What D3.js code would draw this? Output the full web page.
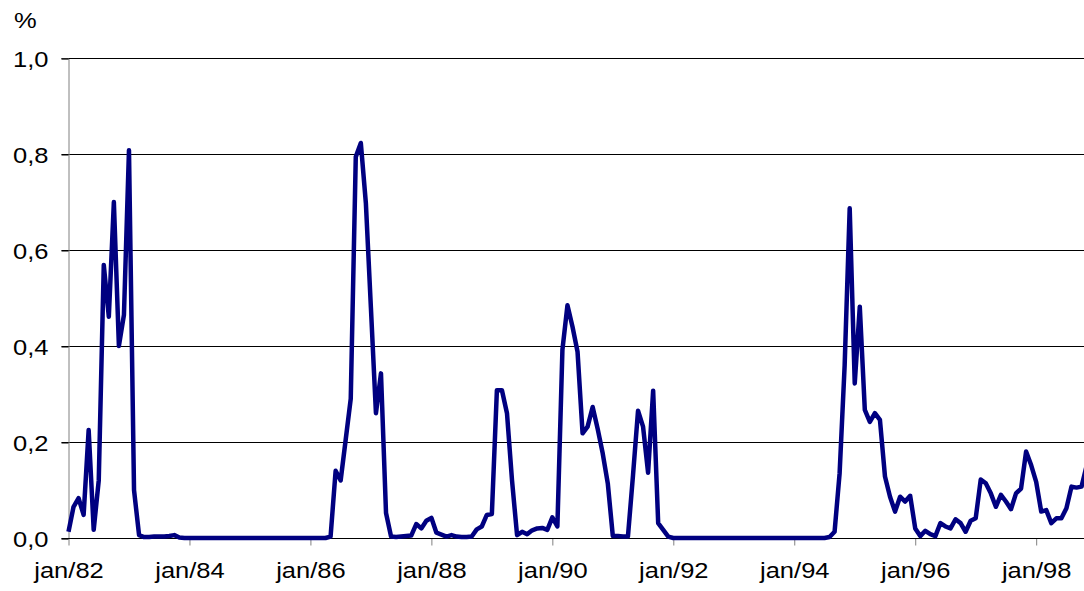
<!DOCTYPE html>
<html>
<head>
<meta charset="utf-8">
<script src="https://cdn.jsdelivr.net/npm/d3@7"></script>
<style>
  body { margin: 0; background: #fff; }
  svg { display: block; }
  text { font-family: "Liberation Sans", Arial, sans-serif; fill: #000; }
</style>
</head>
<body>
<div id="chart"></div>
<script>
// monthly series, jan/82 onwards (%)
var startYear = 1982;
var values = [
  0.013, 0.065, 0.083, 0.048, 0.225, 0.017, 0.12, 0.569, 0.461, 0.70, 0.40, 0.465,   // 1982
  0.808, 0.10, 0.006, 0.002, 0.002, 0.003, 0.003, 0.003, 0.004, 0.006, 0.001, 0,      // 1983
  0, 0, 0, 0, 0, 0, 0, 0, 0, 0, 0, 0,                                                 // 1984
  0, 0, 0, 0, 0, 0, 0, 0, 0, 0, 0, 0,                                                 // 1985
  0, 0, 0, 0, 0.003, 0.14, 0.12, 0.205, 0.29, 0.794, 0.823, 0.698,                    // 1986
  0.48, 0.26, 0.343, 0.052, 0.003, 0.002, 0.003, 0.004, 0.005, 0.029, 0.02, 0.036,    // 1987
  0.042, 0.011, 0.007, 0.003, 0.006, 0.003, 0.002, 0.002, 0.003, 0.018, 0.024, 0.048, // 1988
  0.05, 0.308, 0.308, 0.26, 0.12, 0.006, 0.013, 0.008, 0.016, 0.02, 0.021, 0.017,     // 1989
  0.043, 0.024, 0.392, 0.485, 0.44, 0.388, 0.218, 0.232, 0.273, 0.227, 0.176, 0.114,  // 1990
  0.004, 0.004, 0.003, 0.003, 0.13, 0.265, 0.232, 0.136, 0.307, 0.031, 0.017, 0.003,  // 1991
  0, 0, 0, 0, 0, 0, 0, 0, 0, 0, 0, 0,                                                 // 1992
  0, 0, 0, 0, 0, 0, 0, 0, 0, 0, 0, 0,                                                 // 1993
  0, 0, 0, 0, 0, 0, 0, 0.002, 0.013, 0.135, 0.36, 0.687,                              // 1994
  0.322, 0.482, 0.267, 0.242, 0.26, 0.246, 0.128, 0.086, 0.055, 0.086, 0.076, 0.088,  // 1995
  0.02, 0.004, 0.015, 0.008, 0.004, 0.031, 0.024, 0.02, 0.039, 0.031, 0.013, 0.036,   // 1996
  0.041, 0.122, 0.114, 0.093, 0.065, 0.09, 0.076, 0.06, 0.093, 0.103, 0.18, 0.152,    // 1997
  0.117, 0.055, 0.058, 0.031, 0.041, 0.041, 0.062, 0.107, 0.105, 0.107, 0.15          // 1998
];
var xTickLabels = ["jan/82", "jan/84", "jan/86", "jan/88", "jan/90", "jan/92", "jan/94", "jan/96", "jan/98"];
var yTicks = [0, 0.2, 0.4, 0.6, 0.8, 1.0];
var yTickLabels = ["0,0", "0,2", "0,4", "0,6", "0,8", "1,0"];
var unitLabel = "%";

var width = 1084, height = 591;
var plotLeft = 68.5, plotTop = 58, plotBottom = 538;
var monthW = 5.04;
var stretch = 1.16; // text in the original is drawn a bit wide

var svg = d3.select("#chart").append("svg")
    .attr("width", width)
    .attr("height", height);

var x = d3.scaleLinear()
    .domain([0, values.length - 1])
    .range([plotLeft, plotLeft + (values.length - 1) * monthW]);

var y = d3.scaleLinear()
    .domain([0, 1])
    .range([plotBottom, plotTop]);

// gridlines
svg.append("g").selectAll("line")
    .data(yTicks.filter(function(d) { return d > 0; }))
  .enter().append("line")
    .attr("x1", plotLeft - 7).attr("x2", width)
    .attr("y1", function(d) { return Math.round(y(d)) + 0.5; })
    .attr("y2", function(d) { return Math.round(y(d)) + 0.5; })
    .attr("stroke", "#000")
    .attr("stroke-width", 1);

// y axis
var yAxis = d3.axisLeft(y)
    .tickValues(yTicks)
    .tickSize(7)
    .tickPadding(20)
    .tickFormat(function(d, i) { return yTickLabels[i]; });

var gy = svg.append("g")
    .attr("transform", "translate(" + plotLeft + ",0.5)")
    .call(yAxis);
gy.select(".domain").attr("stroke", "#808080");
gy.selectAll(".tick line").attr("stroke", "#000");
gy.selectAll(".tick text")
    .style("font-size", "22px")
    .attr("x", -20 / stretch)
    .attr("dy", "0.36em")
    .attr("transform", "scale(" + stretch + ",1)");

// x axis
var xAxis = d3.axisBottom(x)
    .tickValues(xTickLabels.map(function(d, i) { return i * 24; }))
    .tickSize(7)
    .tickPadding(17)
    .tickFormat(function(d, i) { return xTickLabels[i]; });

var gx = svg.append("g")
    .attr("transform", "translate(0," + (plotBottom + 0.5) + ")")
    .call(xAxis);
gx.select(".domain").remove();
gx.append("line")
    .attr("x1", plotLeft - 7).attr("x2", width)
    .attr("stroke", "#000");
gx.selectAll(".tick line").attr("stroke", "#808080");
gx.selectAll(".tick text")
    .style("font-size", "22px")
    .attr("transform", "scale(" + stretch + ",1)");

// unit label
svg.append("text")
    .attr("x", 14 / stretch)
    .attr("y", 28)
    .attr("transform", "scale(" + stretch + ",1)")
    .style("font-size", "22px")
    .text(unitLabel);

// series line
var line = d3.line()
    .x(function(d, i) { return x(i); })
    .y(function(d) { return y(d); });

svg.append("path")
    .datum(values)
    .attr("fill", "none")
    .attr("stroke", "#000080")
    .attr("stroke-width", 4.5)
    .attr("stroke-linejoin", "round")
    .attr("d", line);
</script>
</body>
</html>
